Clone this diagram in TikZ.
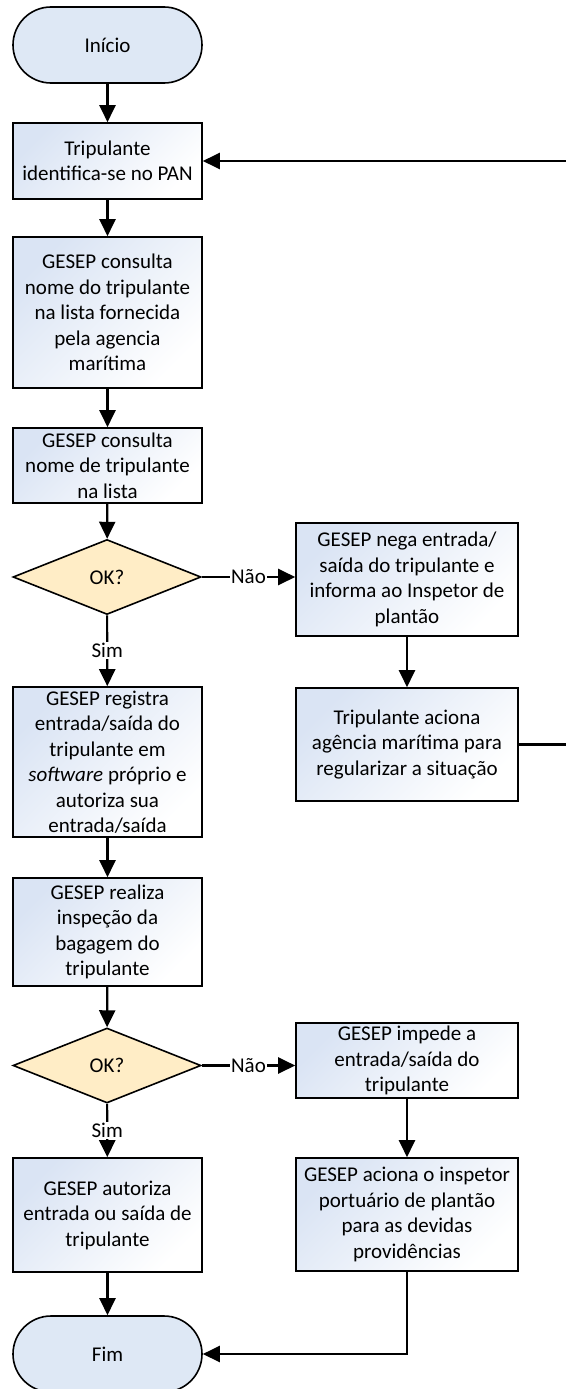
\documentclass[tikz,border=0pt]{standalone}
\usepackage{fontspec}
\setmainfont{Carlito}
\usetikzlibrary{shapes.geometric,arrows.meta}
\definecolor{termfill}{RGB}{222,232,245}
\definecolor{decfill}{RGB}{255,237,198}
\definecolor{boxtint}{RGB}{218,228,244}
\tikzset{
  every node/.style={font=\fontsize{21}{25.5}\selectfont},
  terminal/.style={draw, line width=1.6pt, fill=termfill, rounded corners=38pt, minimum width=189pt, minimum height=76pt},
  stepbox/.style={draw, line width=1.6pt, top color=boxtint, bottom color=white, shading angle=45, align=center, inner sep=0pt},
  leftbox/.style={stepbox, minimum width=189pt},
  rightbox/.style={stepbox, minimum width=222pt},
  decision/.style={diamond, draw, line width=1.6pt, fill=decfill, minimum width=188pt, minimum height=75pt, inner sep=0pt},
  flow/.style={line width=2.2pt, -{Triangle[length=17pt,width=16pt]}},
  answer/.style={fill=white, inner sep=1pt}
}
\begin{document}
\begin{tikzpicture}[x=1pt, y=-1pt]
\useasboundingbox (0,0) rectangle (565,1389);
% left column
\node[terminal] (inicio) at (107.5,45) {Início}; % Inicio
\node[leftbox, minimum height=76pt] (pan) at (107.5,161) {Tripulante\\identifica-se no PAN}; % pan
\node[leftbox, minimum height=151pt] (lista1) at (107.5,312.5) {GESEP consulta\\nome do tripulante\\na lista fornecida\\pela agencia\\marítima}; % lista1
\node[leftbox, minimum height=75pt] (lista2) at (107.5,465.5) {GESEP consulta\\nome de tripulante\\na lista}; % lista2
\node[decision] (ok1) at (107,577) {OK?}; % ok1
\node[leftbox, minimum height=150pt] (registra) at (107.5,762) {GESEP registra\\entrada/saída do\\tripulante em\\\textit{software} próprio e\\autoriza sua\\entrada/saída}; % registra
\node[leftbox, minimum height=108pt] (bagagem) at (107.5,932) {GESEP realiza\\inspeção da\\bagagem do\\tripulante}; % bagagem
\node[decision] (ok2) at (107,1065.5) {OK?}; % ok2
\node[leftbox, minimum height=114pt] (autoriza) at (107.5,1215) {GESEP autoriza\\entrada ou saída de\\tripulante}; % autoriza
\node[terminal] (fim) at (107.5,1354) {Fim}; % Fim
% right column
\node[rightbox, minimum height=113pt] (nega) at (407,579.5) {GESEP nega entrada/\\saída do tripulante e\\informa ao Inspetor de\\plantão}; % nega
\node[rightbox, minimum height=113pt] (agencia) at (407,744.5) {Tripulante aciona\\agência marítima para\\regularizar a situação}; % agencia
\node[rightbox, minimum height=75pt] (impede) at (407,1060.5) {GESEP impede a\\entrada/saída do\\tripulante}; % impede
\node[rightbox, minimum height=113pt] (inspetor) at (407,1214.5) {GESEP aciona o inspetor\\portuário de plantão\\para as devidas\\providências}; % inspetor
% connectors
\draw[flow] (inicio) -- (pan);
\draw[flow] (pan) -- (lista1);
\draw[flow] (lista1) -- (lista2);
\draw[flow] (lista2) -- (ok1);
\draw[flow] (ok1.east) -- node[answer] {Não} (ok1.east -| nega.west);
\draw[flow] (ok1) -- node[answer] {Sim} (registra);
\draw[flow] (nega) -- (agencia);
\draw[flow] (agencia.east) -- ++(50,0) |- (pan.east); % volta
\draw[flow] (registra) -- (bagagem);
\draw[flow] (bagagem) -- (ok2);
\draw[flow] (ok2.east) -- node[answer] {Não} (ok2.east -| impede.west);
\draw[flow] (ok2) -- node[answer] {Sim} (autoriza);
\draw[flow] (impede) -- (inspetor);
\draw[flow] (autoriza) -- (fim);
\draw[flow] (inspetor.south) |- (fim.east);
\end{tikzpicture}
\end{document}
